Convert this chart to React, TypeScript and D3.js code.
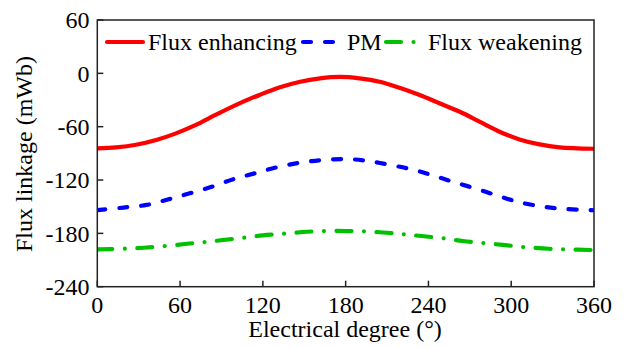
import React from "react";
import * as d3 from "d3";

const xTicks = [0, 60, 120, 180, 240, 300, 360];
const yTicks = [60, 0, -60, -120, -180, -240];

const enhX = [0, 13.6, 28, 42.7, 57, 71.5, 86, 103.4, 118, 132.4, 147, 161.4, 176, 190, 204.6, 219, 233.7, 248, 262.8, 277, 291.5, 306, 320.6, 335, 360];
const enhY = [-84.4, -83.2, -80.3, -75, -67.5, -58, -46.5, -33.5, -24, -15.7, -9.4, -5.6, -4, -5.6, -9.4, -16.2, -24.4, -33.7, -43.2, -54.4, -65.7, -74.3, -79.9, -83.2, -84.8];

const pmX = [0, 19, 35.7, 51.7, 67, 83, 98.8, 114, 130, 147, 163.6, 180.5, 195, 212, 228, 243.6, 259, 275, 290.8, 306, 323, 340, 360];
const pmY = [-153.8, -151, -148, -141.7, -135, -127.6, -119, -112.5, -105.7, -100.5, -97.5, -96.4, -98.3, -103, -108, -115, -122.6, -130, -138, -145, -150, -152.6, -154];

const weakX = [0, 19, 33.5, 49, 65, 78, 91, 106, 120, 135, 149, 163.6, 180.5, 193, 209.7, 221.8, 235, 250.8, 265, 279.7, 294, 308.7, 323, 337.7, 360];
const weakY = [-198, -197.3, -196.2, -194.3, -191.7, -189.8, -187.5, -184.9, -182.2, -180.4, -178.5, -177.4, -177.4, -177.7, -179.3, -181, -183, -185.6, -188.6, -190.9, -193, -195.4, -196.9, -198, -198.8];

const seriesNames = ["Flux enhancing", "PM", "Flux weakening"];
const colors = ["#ff0000", "#0000ff", "#00c000"];
const dashes = ["", "8 14", "15 12.5 0 12.5"];

export default function App() {
  const W = 624, H = 348;
  const left = 97.3, right = 594, top = 20, bottom = 286.7;
  const x = d3.scaleLinear().domain([0, 360]).range([left, right]);
  const y = d3.scaleLinear().domain([-240, 60]).range([bottom, top]);
  const line = d3
    .line<[number, number]>()
    .x((d) => x(d[0]))
    .y((d) => y(d[1]))
    .curve(d3.curveCatmullRom.alpha(0.5));
  const data: [number, number][][] = [
    enhX.map((v, i) => [v, enhY[i]]),
    pmX.map((v, i) => [v, pmY[i]]),
    weakX.map((v, i) => [v, weakY[i]]),
  ];
  const font = '"Liberation Serif", "Times New Roman", Tinos, "DejaVu Serif", serif';
  const fs = 24;
  const legend = [
    { x0: 107, x1: 143, tx: 148 },
    { x0: 303, x1: 338, tx: 347 },
    { x0: 386, x1: 418, tx: 428 },
  ];
  return (
    <svg
      width={W}
      height={H}
      style={{ position: "absolute", left: 0, top: 0, fontFamily: font }}
    >
      <rect x={0} y={0} width={W} height={H} fill="#fff" />
      <defs>
        <clipPath id="clip">
          <rect x={left} y={top} width={right - left} height={bottom - top} />
        </clipPath>
      </defs>
      <g clipPath="url(#clip)">
        {data.map((d, i) => (
          <path
            key={i}
            d={line(d) || ""}
            fill="none"
            stroke={colors[i]}
            strokeWidth={4.2}
            strokeDasharray={dashes[i] || undefined}
            strokeLinecap={i === 0 ? "butt" : "round"}
          />
        ))}
      </g>
      <rect
        x={left}
        y={top}
        width={right - left}
        height={bottom - top}
        fill="none"
        stroke="#222"
        strokeWidth={1.5}
      />
      {xTicks.map((t) => (
        <g key={"x" + t}>
          <line x1={x(t)} x2={x(t)} y1={bottom} y2={bottom - 6} stroke="#222" strokeWidth={1.5} />
          <text x={x(t)} y={313} textAnchor="middle" fontSize={fs} fill="#000">
            {t}
          </text>
        </g>
      ))}
      {yTicks.map((t) => (
        <g key={"y" + t}>
          <line x1={left} x2={left + 6} y1={y(t)} y2={y(t)} stroke="#222" strokeWidth={1.5} />
          <text x={89.5} y={y(t)} dy="0.34em" textAnchor="end" fontSize={fs} fill="#000">
            {t}
          </text>
        </g>
      ))}
      <text x={345} y={337} textAnchor="middle" fontSize={fs} fill="#000">
        Electrical degree (°)
      </text>
      <text
        transform={`translate(32,154) rotate(-90)`}
        textAnchor="middle"
        fontSize={fs}
        fill="#000"
      >
        Flux linkage (mWb)
      </text>
      {legend.map((l, i) => (
        <g key={"lg" + i}>
          <line
            x1={l.x0}
            x2={l.x1}
            y1={42}
            y2={42}
            stroke={colors[i]}
            strokeWidth={4.2}
            strokeDasharray={dashes[i] || undefined}
            strokeLinecap="round"
          />
          <text x={l.tx} y={42} dy="0.34em" fontSize={fs} fill="#000">
            {seriesNames[i]}
          </text>
        </g>
      ))}
    </svg>
  );
}
